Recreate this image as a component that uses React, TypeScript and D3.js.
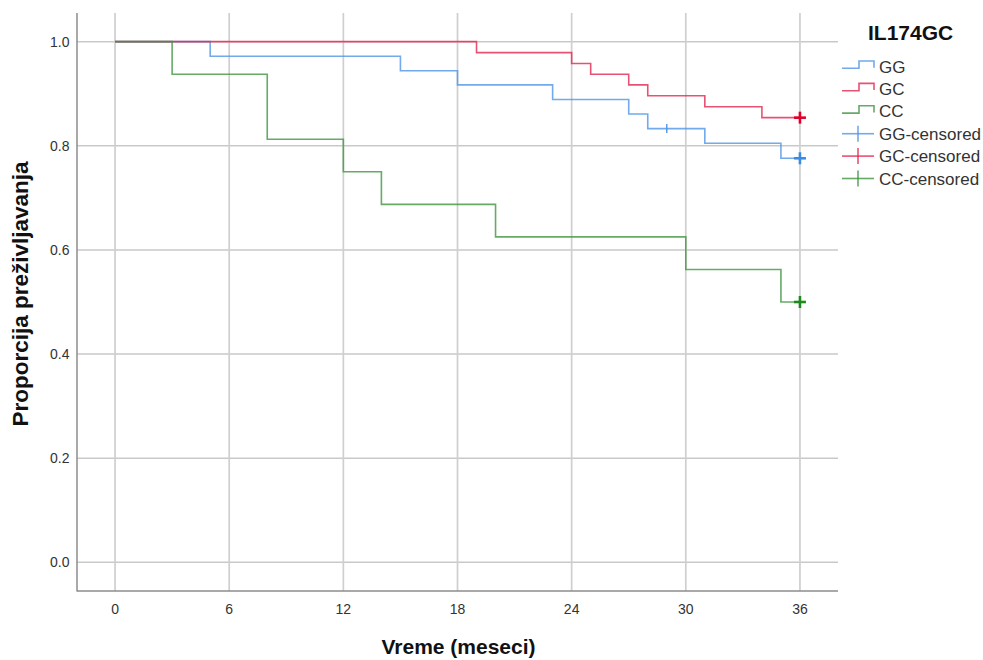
import React from "react";
import * as d3 from "d3";

const xTicks = [0, 6, 12, 18, 24, 30, 36];
const yTicks = [0, 0.2, 0.4, 0.6, 0.8, 1.0];

const ggTimes = [0, 5, 15, 18, 23, 27, 28, 31, 35, 36];
const ggSurv = [1.0, 0.972, 0.944, 0.917, 0.889, 0.861, 0.833, 0.805, 0.776, 0.776];
const gcTimes = [0, 19, 24, 25, 27, 28, 31, 34, 36];
const gcSurv = [1.0, 0.979, 0.958, 0.9375, 0.917, 0.896, 0.875, 0.854, 0.854];
const ccTimes = [0, 3, 8, 12, 14, 20, 30, 35, 36];
const ccSurv = [1.0, 0.9375, 0.8125, 0.75, 0.6875, 0.625, 0.5625, 0.5, 0.5];

const ggCensorTimes = [29, 36];
const ggCensorSurv = [0.833, 0.776];
const ggCensorCount = [1, 5];
const gcCensorTimes = [36];
const gcCensorSurv = [0.854];
const gcCensorCount = [5];
const ccCensorTimes = [36];
const ccCensorSurv = [0.5];
const ccCensorCount = [5];

const legendLabels = ["GG", "GC", "CC", "GG-censored", "GC-censored", "CC-censored"];
const legendTitle = "IL174GC";
const xTitle = "Vreme (meseci)";
const yTitle = "Proporcija preživljavanja";

const lineColors = ["#4f95e6", "#e2274f", "#3f953f"];
const markColors = ["#3b8ae6", "#e0002a", "#1e8a1e"];

export default function App() {
  const W = 983, H = 660;
  const x = d3.scaleLinear().domain([-2, 38]).range([77, 838]);
  const y = d3.scaleLinear().domain([-0.055, 1.055]).range([591, 13]);
  const line = d3
    .line<[number, number]>()
    .x((d) => x(d[0]))
    .y((d) => y(d[1]))
    .curve(d3.curveStepAfter);

  const series = [
    { t: ggTimes, s: ggSurv, ct: ggCensorTimes, cs: ggCensorSurv, cn: ggCensorCount },
    { t: gcTimes, s: gcSurv, ct: gcCensorTimes, cs: gcCensorSurv, cn: gcCensorCount },
    { t: ccTimes, s: ccSurv, ct: ccCensorTimes, cs: ccCensorSurv, cn: ccCensorCount },
  ];

  const font = "'Liberation Sans', Arial, sans-serif";
  const [x0, x1] = x.range();
  const [yb, yt] = y.range();

  const legY0 = 66.5;
  const legStep = 22.4;

  return (
    <svg width={W} height={H} style={{ position: "absolute", left: 0, top: 0, background: "#fff" }} fontFamily={font}>
      <rect x={0} y={0} width={W} height={H} fill="#fff" />
      {yTicks.map((v) => (
        <line key={"gy" + v} x1={x0} x2={x1} y1={y(v)} y2={y(v)} stroke="#c9c9c9" strokeWidth={1.5} />
      ))}
      {xTicks.map((v) => (
        <line key={"gx" + v} x1={x(v)} x2={x(v)} y1={yt} y2={yb} stroke="#cfcfcf" strokeWidth={1.7} />
      ))}
      <line x1={x0} x2={x0} y1={yt} y2={yb + 0.5} stroke="#8c8c8c" strokeWidth={1.5} />
      <line x1={x0} x2={x1} y1={yb} y2={yb} stroke="#8c8c8c" strokeWidth={1.5} />
      {yTicks.map((v) => (
        <text key={"ty" + v} x={69.5} y={y(v)} dy="0.35em" textAnchor="end" fontSize={14} fill="#333">
          {v.toFixed(1)}
        </text>
      ))}
      {xTicks.map((v) => (
        <text key={"tx" + v} x={x(v)} y={614} textAnchor="middle" fontSize={14} fill="#333">
          {v}
        </text>
      ))}
      <text x={458.5} y={654} textAnchor="middle" fontSize={21} fontWeight="bold" fill="#111">
        {xTitle}
      </text>
      <text
        transform={`translate(28,294) rotate(-90)`}
        textAnchor="middle"
        fontSize={22.5}
        fontWeight="bold"
        fill="#111"
      >
        {yTitle}
      </text>
      {series.map((sr, i) => (
        <path
          key={"c" + i}
          d={line(sr.t.map((t, k) => [t, sr.s[k]] as [number, number])) || ""}
          fill="none"
          stroke={lineColors[i]}
          strokeOpacity={0.8}
          strokeWidth={1.6}
        />
      ))}
      {series.map((sr, i) =>
        sr.ct.map((t, k) => {
          const cx = x(t), cy = y(sr.cs[k]);
          const big = sr.cn[k] > 1;
          const hw = big ? 6 : 0;
          const hh = big ? 6 : 4.5;
          return (
            <g key={"m" + i + "-" + k} stroke={big ? markColors[i] : lineColors[i]} strokeWidth={big ? 2.6 : 1.4}>
              {big && <line x1={cx - hw} x2={cx + hw} y1={cy} y2={cy} />}
              <line x1={cx} x2={cx} y1={cy - hh} y2={cy + hh} />
            </g>
          );
        })
      )}
      <text x={868} y={40} fontSize={21} fontWeight="bold" fill="#111">
        {legendTitle}
      </text>
      {legendLabels.map((lab, i) => {
        const cy = legY0 + i * legStep;
        const gi = i % 3;
        const censored = i >= 3;
        return (
          <g key={"l" + i}>
            {!censored ? (
              <path
                d={`M842,${cy + 1.8}H859V${cy - 5.5}H874V${cy + 1.2}`}
                fill="none"
                stroke={lineColors[gi]}
                strokeOpacity={0.8}
                strokeWidth={1.6}
              />
            ) : (
              <g stroke={lineColors[gi]} strokeOpacity={0.8} strokeWidth={1.6}>
                <line x1={842} x2={874} y1={cy} y2={cy} />
                <line x1={858} x2={858} y1={cy - 8} y2={cy + 8} />
              </g>
            )}
            <text x={879} y={cy} dy="0.36em" fontSize={17} fill="#333">
              {lab}
            </text>
          </g>
        );
      })}
    </svg>
  );
}
